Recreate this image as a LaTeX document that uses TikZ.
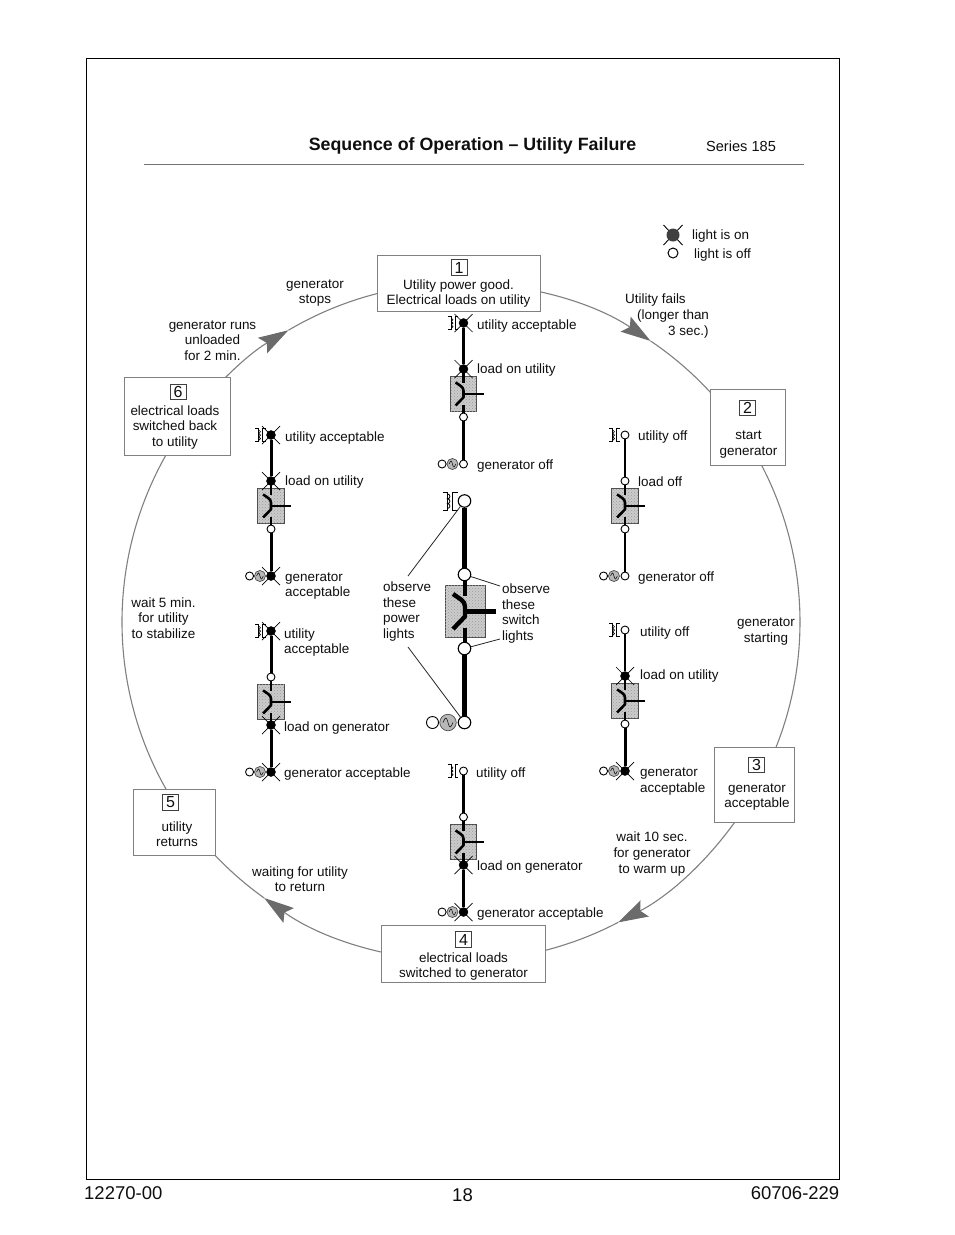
\documentclass[tikz,border=0pt]{standalone}
\usepackage{fontspec}
\setmainfont{Liberation Sans}
\usetikzlibrary{arrows.meta,backgrounds,calc,patterns}
\definecolor{ringgray}{gray}{0.5}
\definecolor{boxgray}{gray}{0.5}
\definecolor{swgray}{gray}{0.8}
\definecolor{inkc}{gray}{0.06}
\tikzset{
  x=1pt,y=-1pt,
  every node/.style={text=inkc,font=\fontsize{13.45}{15.6}\selectfont,inner sep=0pt},
  stepbox/.style={draw=boxgray,fill=white,line width=0.8pt,inner sep=0pt},
  numbox/.style={draw=black!75,line width=0.6pt,minimum width=16pt,minimum height=15.5pt,font=\fontsize{16}{16}\selectfont},
  ring/.style={draw=ringgray,line width=1.1pt},
  ringarrow/.style={ring,-{Stealth[length=30pt,width=18pt,inset=5pt,color=black!58]}},
  lighton/.style={circle,fill=black,draw=black,minimum size=9pt},
  lightoff/.style={circle,fill=white,draw=black,line width=0.9pt,minimum size=8pt},
  raysty/.style={line width=0.7pt,draw=black},
  labelw/.style={anchor=west,align=left,yshift=-1.5pt},
  labelc/.style={align=center,yshift=-1.5pt},
  lead/.style={line width=0.8pt,draw=black!85},
  busthin/.style={line width=2.2pt,draw=black},
  busthick/.style={line width=3pt,draw=black},
  busoff/.style={busthin},
  buson/.style={busthick},
}
% rays of a lit lamp
\newcommand\lamprays[2]{\draw[raysty] ($(#1)+(-#2,-#2)$) -- ($(#1)+(#2,#2)$) ($(#1)+(-#2,#2)$) -- ($(#1)+(#2,-#2)$);}
\newcommand\lamp[4]{% name x y state
  \def\tmpst{#4}\def\tmpon{on}%
  \ifx\tmpst\tmpon\coordinate (#1) at (#2,#3);\lamprays{#1}{9}\node[lighton] (#1) at (#2,#3) {};%
  \else\node[lightoff] (#1) at (#2,#3) {};\fi}
% switch body: box, blade and output
\newcommand\switchsym[6]{% name x y scale buswidth-top-stub buswidth-bottom-stub
  \node[draw=black!70,fill=swgray,line width=0.8pt,minimum width=#4*40pt,minimum height=#4*52.5pt,
        postaction={pattern=crosshatch dots,pattern color=black!40}] (#1) at (#2,#3) {};
  \begin{scope}[shift={(#2,#3)},scale=#4]
    \draw[line width=#5] (0,-36) -- (0,-16);
    \draw[line width=#6] (0,16) -- (0,36);
    \draw[line width=#5,line join=round] (-12,-17.5) .. controls (-6,-13) and (0,-11) .. (0,-5) -- (0,5) -- (-12,17.5);
    \draw[line width=#5] (0,0) -- (31,0);
  \end{scope}}
% utility transformer symbol
\newcommand\xfmr[4]{% x y scale linewidth
  \begin{scope}[shift={(#1,#2)},scale=#3,line width=#4]
    \draw (-22,-9) -- (-17,-9) -- (-17,9) -- (-22,9);
    \draw (-7,-9) -- (-12,-9) -- (-12,9) -- (-7,9);
    \draw (-17,-7) arc[start angle=-90,end angle=90,radius=2.4] arc[start angle=-90,end angle=90,radius=2.4] arc[start angle=-90,end angle=90,radius=2.4];
  \end{scope}}
% generator symbol
\newcommand\gensym[4]{% name x y scale
  \begin{scope}[shift={(#2,#3)},scale=#4]
    \node[circle,draw=black!70,fill=black!28,line width=0.7pt,minimum size=#4*16.5pt] (#1g) at (-16.5,0) {};
    \draw[line width=0.5pt] (-21.5,0) .. controls (-19,-6) and (-18,-6) .. (-16.5,0) .. controls (-15,6) and (-14,6) .. (-11.5,0);
    \node[circle,draw=black,fill=white,line width=0.9pt,minimum size=#4*12pt] (#1o) at (-32,0) {};
  \end{scope}}
% one light column of the sequence
\newcommand\lightcol[7]{% name x ytop s1 s2 s3 s4
  \pgfmathsetmacro\ya{#3}\pgfmathsetmacro\yb{#3+46}\pgfmathsetmacro\yc{#3+71}\pgfmathsetmacro\yd{#3+94}\pgfmathsetmacro\ye{#3+141}
  \xfmr{#2}{\ya}{0.72}{0.6pt}
  \gensym{#1}{#2}{\ye}{0.67}
  \switchsym{#1b}{#2}{\yc}{0.66}{2.6pt}{2.6pt}
  \lamp{#1a}{#2}{\ya}{#4}
  \lamp{#1c}{#2}{\yb}{#5}
  \lamp{#1d}{#2}{\yd}{#6}
  \lamp{#1e}{#2}{\ye}{#7}
  \draw[bus#4] (#1a) -- (#1c);
  \draw[bus#7] (#1d) -- (#1e);}
\begin{document}
\begin{tikzpicture}
\useasboundingbox (0,0) rectangle (954,1235);
\node[draw=black,line width=0.9pt,minimum width=753pt,minimum height=1121pt,anchor=north west] (frame) at (86,58) {};
% heading
\node[font=\fontsize{17.8}{18}\selectfont\bfseries] (title) at (472.5,145.5) {Sequence of Operation – Utility Failure};
\node[font=\fontsize{14.6}{16}\selectfont] (series) at (741,146) {Series 185};
\coordinate (hl) at (144,164.5);\coordinate (hr) at (804,164.5);
\draw[line width=0.7pt,draw=black!55] (hl) -- (hr);
% legend
\coordinate (lgon) at (673,235);
\draw[line width=0.9pt] ($(lgon)+(-9.5,-10)$) -- ($(lgon)+(9.5,10)$) ($(lgon)+(-9.5,10)$) -- ($(lgon)+(9.5,-10)$);
\node[circle,fill=black!75,minimum size=13pt] (lgondot) at (lgon) {};
\node[circle,draw=black,line width=1pt,fill=white,minimum size=10pt] (lgoff) at (673,253) {};
\node[labelw] (lgt1) at (692,235) {light is on};
\node[labelw] (lgt2) at (694,254) {light is off};
% step boxes
\node[stepbox,minimum width=163pt,minimum height=56pt] (b1) at (458.5,283) {};
\node[stepbox,minimum width=75pt,minimum height=76pt] (b2) at (747.5,427) {};
\node[stepbox,minimum width=80.5pt,minimum height=75pt] (b3) at (754.5,784.5) {};
\node[stepbox,minimum width=164.5pt,minimum height=56.5pt] (b4) at (463.5,954) {};
\node[stepbox,minimum width=82.5pt,minimum height=66pt] (b5) at (174.5,822) {};
\node[stepbox,minimum width=106.5pt,minimum height=78pt] (b6) at (177.5,416) {};
\node[numbox] (n1) at (459,267.5) {1};
\node[numbox] (n2) at (747.5,408) {2};
\node[numbox] (n3) at (756.5,765) {3};
\node[numbox] (n4) at (463.5,939.5) {4};
\node[numbox] (n5) at (170.5,802.5) {5};
\node[numbox] (n6) at (178,392) {6};
\node[labelc] (t1) at (458.5,292) {Utility power good.\\Electrical loads on utility};
\node[labelc] (t2) at (748.5,443) {start\\generator};
\node[labelc] (t3) at (757,795.5) {generator\\acceptable};
\node[labelc] (t4) at (463.5,965) {electrical loads\\switched to generator};
\node[labelc] (t5) at (177,832.5) {utility\\returns};
\node[labelc] (t6) at (175,426) {electrical loads\\switched back\\to utility};
% ring
\coordinate (c) at (461,622);
\foreach \nm/\ang in {r1/270,ar1/304,r2/326,r3/29,ar3/62.4,r4/90,ar4/125.5,r5/145,r6/216,ar6/239.4}
  \coordinate (\nm) at ($(c)+(\ang:339)$);
\begin{scope}[on background layer]
  \fill[white] (0,0) rectangle (954,1235);
  \draw[ringarrow] (r1) arc[start angle=270,end angle=304,radius=339];
  \draw[ring] (ar1) arc[start angle=304,end angle=326,radius=339];
  \draw[ring] (r2) arc[start angle=326,end angle=389,radius=339];
  \draw[ringarrow] (r3) arc[start angle=29,end angle=62.4,radius=339];
  \draw[ring] (ar3) arc[start angle=62.4,end angle=90,radius=339];
  \draw[ringarrow] (r4) arc[start angle=90,end angle=125.5,radius=339];
  \draw[ring] (ar4) arc[start angle=125.5,end angle=145,radius=339];
  \draw[ring] (r5) arc[start angle=145,end angle=216,radius=339];
  \draw[ringarrow] (r6) arc[start angle=216,end angle=239.4,radius=339];
  \draw[ring] (ar6) arc[start angle=239.4,end angle=270,radius=339];
\end{scope}
% ring labels
\node[labelc] (q1) at (315,291.5) {generator\\stops};
\node[labelc] (q2) at (212.5,339) {generator runs\\unloaded\\for 2 min.};
\node[labelw] (q3) at (625,314.5) {Utility fails\\\hspace*{12pt}(longer than\\\hspace*{43pt}3 sec.)};
\node[labelc] (q4) at (163.5,616.5) {wait 5 min.\\for utility\\to stabilize};
\node[labelc] (q5) at (766,630) {generator\\starting};
\node[labelc] (q6) at (652,852.5) {wait 10 sec.\\for generator\\to warm up};
\node[labelc] (q7) at (300,877.5) {waiting for utility\\to return};
% light columns
\lightcol{A}{463.5}{323}{on}{on}{off}{off}
\lightcol{B}{625}{435}{off}{off}{off}{off}
\lightcol{C}{625}{630}{off}{on}{off}{on}
\lightcol{D}{463.5}{771}{off}{off}{on}{on}
\lightcol{E}{271}{631}{on}{off}{on}{on}
\lightcol{F}{271}{435}{on}{on}{off}{on}
\node[labelw] at (477,325) {utility acceptable};
\node[labelw] at (477,369) {load on utility};
\node[labelw] at (477,464.5) {generator off};
\node[labelw] at (638,436) {utility off};
\node[labelw] at (638,480.5) {load off};
\node[labelw] at (638,577) {generator off};
\node[labelw] at (640,632) {utility off};
\node[labelw] at (640,675) {load on utility};
\node[labelw] at (640,780) {generator\\acceptable};
\node[labelw] at (476,772.5) {utility off};
\node[labelw] at (477,865.5) {load on generator};
\node[labelw] at (477,912.5) {generator acceptable};
\node[labelw] at (284,641) {utility\\acceptable};
\node[labelw] at (284,726.5) {load on generator};
\node[labelw] at (284,773) {generator acceptable};
\node[labelw] at (285,436.5) {utility acceptable};
\node[labelw] at (285,481) {load on utility};
\node[labelw] at (285,584.5) {generator\\acceptable};
% centre column
\tikzset{bigoff/.style={circle,draw=black,fill=white,line width=1.1pt,minimum size=12.5pt}}
\xfmr{464.5}{501}{1}{0.8pt}
\gensym{G}{464.5}{722.5}{1}
\switchsym{Gb}{465}{611.5}{1}{4.4pt}{4.4pt}
\node[bigoff] (Ga) at (464.5,501) {};
\node[bigoff] (Gc) at (464.5,574.5) {};
\node[bigoff] (Gd) at (464.5,648.5) {};
\node[bigoff] (Ge) at (464.5,722.5) {};
\draw[line width=4.6pt] (Ga) -- (Gc);
\draw[line width=4.6pt] (Gd) -- (Ge);
\node[labelw] (pl) at (383,610) {observe\\these\\power\\lights};
\node[labelw] (sl) at (502,612) {observe\\these\\switch\\lights};
\coordinate (pa) at (408,576);\coordinate (pb) at (408,647);
\coordinate (sa) at (500,586);\coordinate (sb) at (500,639);
\draw[lead] (pa) -- (Ga);
\draw[lead] (pb) -- (Ge);
\draw[lead] (sa) -- (Gc);
\draw[lead] (sb) -- (Gd);
% footer
\node[anchor=west,font=\fontsize{18.5}{20}\selectfont] (f1) at (84,1193) {12270-00};
\node[font=\fontsize{18.5}{20}\selectfont] (f2) at (462.5,1195) {18};
\node[anchor=east,font=\fontsize{18.5}{20}\selectfont] (f3) at (839.5,1193) {60706-229};
\end{tikzpicture}
\end{document}
